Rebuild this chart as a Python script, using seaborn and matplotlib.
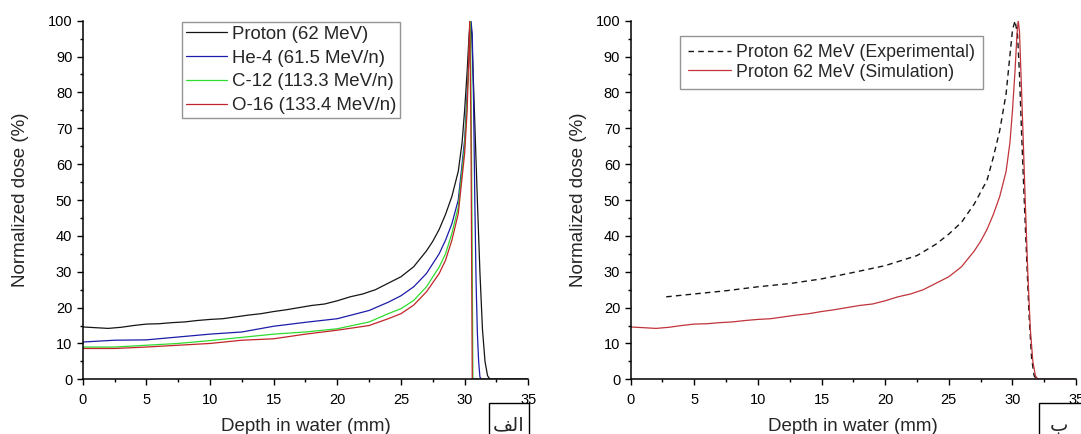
import matplotlib
matplotlib.use("Agg")
import matplotlib.pyplot as plt
import seaborn as sns
from matplotlib.ticker import MultipleLocator
from matplotlib.patches import Rectangle

# depth (mm) / normalized dose (%)
proton_x = [0, 1, 2, 3, 4, 5, 6, 7, 8, 9, 10, 11, 12, 13, 14, 15, 16, 17, 18, 19,
            20, 21, 22, 23, 24, 25, 26, 27, 27.5, 28, 28.5, 29, 29.5, 29.8, 30,
            30.2, 30.35, 30.45, 30.55, 30.7, 30.85, 31.0, 31.2, 31.4, 31.6, 31.8, 32.0, 35]
proton_y = [14.6, 14.4, 14.2, 14.5, 15.0, 15.4, 15.5, 15.8, 16.0, 16.4, 16.7, 16.9, 17.4,
            17.9, 18.3, 18.9, 19.4, 20.0, 20.6, 21.0, 21.9, 23.0, 23.8, 25.0, 26.8, 28.6,
            31.4, 35.8, 38.5, 41.8, 46.0, 51.0, 58.0, 66.0, 75.0, 86.0, 96.0, 100.0, 97.0,
            82.0, 66.0, 50.0, 30.0, 14.0, 5.0, 1.0, 0.0, 0.0]

he4_x = [0, 2.5, 5, 7.5, 10, 12.5, 15, 17.5, 20, 22.5, 24, 25, 26, 27, 28, 28.5, 29,
         29.5, 30, 30.2, 30.5, 30.6, 30.7, 30.8, 30.9, 31.0, 31.1, 31.2, 31.3, 35]
he4_y = [10.4, 10.9, 11.0, 11.8, 12.6, 13.2, 14.8, 15.9, 16.9, 19.2, 21.5, 23.3, 25.8,
         29.5, 35.0, 38.8, 43.4, 50.0, 66.7, 80.0, 100.0, 96.0, 78.0, 50.0, 27.0, 13.0,
         5.0, 0.7, 0.0, 0.0]

c12_x = [0, 2.5, 5, 7.5, 10, 12.5, 15, 17.5, 20, 22.5, 24, 25, 26, 27, 28, 28.5, 29,
         29.5, 30, 30.2, 30.45, 30.55, 30.65, 35]
c12_y = [9.0, 9.0, 9.5, 10.0, 10.8, 11.7, 12.6, 13.2, 14.1, 16.0, 18.3, 19.7, 22.0, 25.8,
         31.3, 35.0, 40.7, 48.0, 65.0, 78.0, 100.0, 59.0, 0.0, 0.0]

o16_x = [0, 2.5, 5, 7.5, 10, 12.5, 15, 17.5, 20, 22.5, 24, 25, 26, 27, 28, 28.5, 29,
         29.5, 30, 30.2, 30.4, 30.5, 30.6, 35]
o16_y = [8.6, 8.6, 9.0, 9.5, 10.0, 10.9, 11.3, 12.6, 13.7, 15.0, 16.9, 18.3, 20.7, 24.4,
         29.5, 33.2, 38.8, 46.2, 63.0, 75.0, 100.0, 68.0, 0.0, 0.0]

exp_x = [2.8, 5, 7.5, 10, 12.5, 15, 17.5, 20, 22.5, 24, 25, 26, 27, 28, 28.5, 29, 29.5,
         30, 30.2, 30.4, 30.55, 30.7, 30.9, 31.1, 31.3, 31.5, 31.7, 31.9]
exp_y = [23.0, 23.8, 24.7, 25.8, 26.7, 28.0, 29.8, 31.7, 34.5, 37.7, 40.5, 43.8, 48.9,
         55.5, 62.0, 69.4, 79.7, 97.4, 100.0, 96.0, 85.0, 70.0, 52.0, 35.0, 18.0, 6.0,
         1.0, 0.0]

left_labels = ["Proton (62 MeV)", "He-4 (61.5 MeV/n)", "C-12 (113.3 MeV/n)", "O-16 (133.4 MeV/n)"]
right_labels = ["Proton 62 MeV (Experimental)", "Proton 62 MeV (Simulation)"]

sns.set_style("ticks")
plt.rcParams["font.family"] = ["Liberation Sans", "DejaVu Sans"]

fig = plt.figure(figsize=(10.81, 4.34), dpi=100)
ax1 = fig.add_axes([0.0765, 0.126, 0.4122, 0.8263])
ax2 = fig.add_axes([0.5833, 0.126, 0.4122, 0.8263])

lw = 0.9
sns.lineplot(x=proton_x, y=proton_y, ax=ax1, color="#151515", lw=lw, label=left_labels[0], sort=False)
sns.lineplot(x=he4_x, y=he4_y, ax=ax1, color="#1c1caa", lw=lw, label=left_labels[1], sort=False)
sns.lineplot(x=c12_x, y=c12_y, ax=ax1, color="#2fdc2f", lw=lw, label=left_labels[2], sort=False)
sns.lineplot(x=o16_x, y=o16_y, ax=ax1, color="#c0242a", lw=lw, label=left_labels[3], sort=False)

sns.lineplot(x=exp_x, y=exp_y, ax=ax2, color="#151515", lw=1.0, ls=(0, (4, 3)),
             label=right_labels[0], sort=False)
sns.lineplot(x=proton_x, y=proton_y, ax=ax2, color="#c0343a", lw=lw, label=right_labels[1], sort=False)

for ax in (ax1, ax2):
    ax.set_xlim(0, 35)
    ax.set_ylim(0, 100)
    ax.xaxis.set_major_locator(MultipleLocator(5))
    ax.xaxis.set_minor_locator(MultipleLocator(2.5))
    ax.yaxis.set_major_locator(MultipleLocator(10))
    ax.yaxis.set_minor_locator(MultipleLocator(5))
    ax.tick_params(which="major", direction="out", length=4.5, width=1, labelsize=10.5,
                   colors="black", pad=3)
    ax.tick_params(axis="x", which="major", pad=5.5)
    ax.tick_params(which="minor", direction="out", length=2.5, width=1, colors="black")
    for s in ("top", "right"):
        ax.spines[s].set_visible(False)
    for s in ("left", "bottom"):
        ax.spines[s].set_linewidth(1.1)
        ax.spines[s].set_color("black")
    ax.set_xlabel("Depth in water (mm)", fontsize=13.5)
    ax.set_ylabel("Normalized dose (%)", fontsize=13.5)
    ax.xaxis.set_label_coords(0.5, -0.109)

ax1.yaxis.set_label_coords(-0.1205, 0.5)
ax2.yaxis.set_label_coords(-0.0976, 0.5)

leg1 = ax1.legend(loc="upper left", bbox_to_anchor=(0.223, 0.996), borderaxespad=0,
                  fontsize=13.4, frameon=True, fancybox=False, handlelength=2.2,
                  handletextpad=0.3, borderpad=0.2, labelspacing=0.36)
leg2 = ax2.legend(loc="upper left", bbox_to_anchor=(0.111, 0.957), borderaxespad=0,
                  fontsize=12.8, frameon=True, fancybox=False, handlelength=2.4,
                  handletextpad=0.3, borderpad=0.45, labelspacing=0.14)
for leg in (leg1, leg2):
    leg.get_frame().set_edgecolor("#7a7a7a")
    leg.get_frame().set_linewidth(1.0)

# boxed panel labels (Persian), partly cut by the bottom edge
W, H = 1081, 434
fig.patches.append(Rectangle((489.3 / W, -0.05), 39.4 / W, 0.05 + 1 - 403.3 / H,
                             transform=fig.transFigure, fill=False, ec="black", lw=1.0))
fig.patches.append(Rectangle((1039.3 / W, -0.05), 60 / W, 0.05 + 1 - 402.7 / H,
                             transform=fig.transFigure, fill=False, ec="black", lw=1.0))
fig.text(508.5 / W, 1 - 425 / H, "\ufed2\ufedf\ufe8d", family=["DejaVu Sans"], fontsize=14,
         ha="center", va="center")
fig.text(1059 / W, 1 - 425 / H, "\u0628", family=["DejaVu Sans"], fontsize=14,
         ha="center", va="center")

fig.savefig("out.png", dpi=100)
